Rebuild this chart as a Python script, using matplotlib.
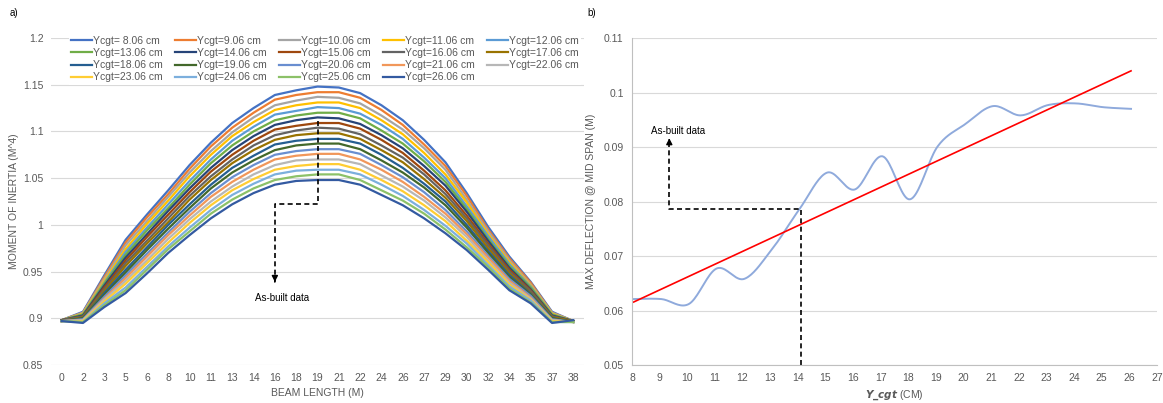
import numpy as np
import matplotlib
matplotlib.use('Agg')
import matplotlib.pyplot as plt

plt.rcParams['font.family'] = ['Liberation Sans', 'DejaVu Sans']

# ---- panel a data: moment of inertia along the beam ----
beam_labels = ['0', '2', '3', '5', '6', '8', '10', '11', '13', '14', '16', '18', '19',
               '21', '22', '24', '26', '27', '29', '30', '32', '34', '35', '37', '38']

series_labels = ['Ycgt= 8.06 cm', 'Ycgt=9.06 cm', 'Ycgt=10.06 cm', 'Ycgt=11.06 cm', 'Ycgt=12.06 cm',
                 'Ycgt=13.06 cm', 'Ycgt=14.06 cm', 'Ycgt=15.06 cm', 'Ycgt=16.06 cm', 'Ycgt=17.06 cm',
                 'Ycgt=18.06 cm', 'Ycgt=19.06 cm', 'Ycgt=20.06 cm', 'Ycgt=21.06 cm', 'Ycgt=22.06 cm',
                 'Ycgt=23.06 cm', 'Ycgt=24.06 cm', 'Ycgt=25.06 cm', 'Ycgt=26.06 cm']

series_colors = ['#4472C4', '#ED7D31', '#A5A5A5', '#FFC000', '#5B9BD5', '#70AD47', '#264478',
                 '#9E480E', '#636363', '#997300', '#255E91', '#43682B', '#698ED0', '#F1975A',
                 '#B7B7B7', '#FFCD33', '#7CAFDD', '#8CC168', '#335AA1']

inertia = [
    [0.898, 0.907, 0.946, 0.984, 1.011, 1.037, 1.064, 1.088, 1.109, 1.125, 1.139, 1.144, 1.148, 1.147, 1.141, 1.128, 1.112, 1.091, 1.067, 1.034, 0.998, 0.966, 0.939, 0.907, 0.897],
    [0.898, 0.906, 0.944, 0.981, 1.008, 1.033, 1.060, 1.084, 1.104, 1.120, 1.134, 1.139, 1.142, 1.142, 1.136, 1.123, 1.107, 1.086, 1.063, 1.031, 0.995, 0.964, 0.938, 0.906, 0.897],
    [0.898, 0.906, 0.942, 0.978, 1.004, 1.030, 1.056, 1.079, 1.099, 1.115, 1.128, 1.133, 1.137, 1.136, 1.130, 1.117, 1.102, 1.082, 1.059, 1.027, 0.993, 0.962, 0.936, 0.906, 0.897],
    [0.898, 0.905, 0.940, 0.974, 1.001, 1.026, 1.052, 1.075, 1.095, 1.110, 1.123, 1.128, 1.131, 1.131, 1.125, 1.112, 1.097, 1.077, 1.054, 1.024, 0.990, 0.960, 0.935, 0.905, 0.897],
    [0.898, 0.904, 0.938, 0.971, 0.997, 1.022, 1.047, 1.070, 1.090, 1.105, 1.118, 1.122, 1.126, 1.125, 1.119, 1.107, 1.092, 1.072, 1.050, 1.020, 0.988, 0.958, 0.934, 0.904, 0.897],
    [0.898, 0.904, 0.937, 0.968, 0.994, 1.018, 1.043, 1.066, 1.085, 1.100, 1.112, 1.117, 1.120, 1.120, 1.114, 1.101, 1.087, 1.068, 1.046, 1.017, 0.985, 0.956, 0.933, 0.904, 0.897],
    [0.898, 0.903, 0.935, 0.965, 0.990, 1.015, 1.039, 1.061, 1.080, 1.095, 1.107, 1.112, 1.115, 1.114, 1.108, 1.096, 1.082, 1.063, 1.042, 1.014, 0.983, 0.954, 0.931, 0.903, 0.897],
    [0.898, 0.902, 0.933, 0.962, 0.987, 1.011, 1.035, 1.057, 1.075, 1.090, 1.102, 1.106, 1.109, 1.109, 1.103, 1.091, 1.077, 1.058, 1.037, 1.010, 0.980, 0.952, 0.930, 0.902, 0.897],
    [0.898, 0.902, 0.931, 0.959, 0.983, 1.007, 1.031, 1.052, 1.070, 1.085, 1.096, 1.101, 1.104, 1.103, 1.097, 1.085, 1.072, 1.054, 1.033, 1.007, 0.978, 0.950, 0.929, 0.902, 0.897],
    [0.897, 0.901, 0.929, 0.956, 0.980, 1.003, 1.027, 1.048, 1.066, 1.080, 1.091, 1.096, 1.098, 1.098, 1.092, 1.080, 1.067, 1.049, 1.029, 1.004, 0.975, 0.948, 0.927, 0.901, 0.897],
    [0.897, 0.900, 0.927, 0.952, 0.976, 1.000, 1.022, 1.043, 1.061, 1.074, 1.086, 1.090, 1.092, 1.092, 1.087, 1.075, 1.061, 1.044, 1.025, 1.000, 0.972, 0.946, 0.926, 0.900, 0.896],
    [0.897, 0.900, 0.925, 0.949, 0.973, 0.996, 1.018, 1.039, 1.056, 1.069, 1.080, 1.085, 1.087, 1.087, 1.081, 1.069, 1.056, 1.040, 1.021, 0.997, 0.970, 0.944, 0.925, 0.900, 0.896],
    [0.897, 0.899, 0.923, 0.946, 0.969, 0.992, 1.014, 1.034, 1.051, 1.064, 1.075, 1.079, 1.081, 1.081, 1.076, 1.064, 1.051, 1.035, 1.016, 0.993, 0.967, 0.942, 0.924, 0.899, 0.896],
    [0.897, 0.898, 0.921, 0.943, 0.966, 0.989, 1.010, 1.030, 1.046, 1.059, 1.070, 1.074, 1.076, 1.076, 1.070, 1.059, 1.046, 1.030, 1.012, 0.990, 0.965, 0.940, 0.922, 0.898, 0.896],
    [0.897, 0.898, 0.920, 0.940, 0.962, 0.985, 1.006, 1.025, 1.041, 1.054, 1.064, 1.069, 1.070, 1.070, 1.065, 1.053, 1.041, 1.026, 1.008, 0.987, 0.962, 0.938, 0.921, 0.898, 0.896],
    [0.897, 0.897, 0.918, 0.937, 0.959, 0.981, 1.002, 1.021, 1.037, 1.049, 1.059, 1.063, 1.065, 1.065, 1.059, 1.048, 1.036, 1.021, 1.004, 0.983, 0.960, 0.936, 0.920, 0.897, 0.896],
    [0.897, 0.896, 0.916, 0.933, 0.955, 0.977, 0.997, 1.016, 1.032, 1.044, 1.054, 1.058, 1.059, 1.059, 1.054, 1.043, 1.031, 1.016, 0.999, 0.980, 0.957, 0.934, 0.919, 0.896, 0.896],
    [0.897, 0.896, 0.914, 0.930, 0.952, 0.974, 0.993, 1.012, 1.027, 1.039, 1.048, 1.052, 1.054, 1.054, 1.048, 1.037, 1.026, 1.012, 0.995, 0.976, 0.955, 0.932, 0.917, 0.896, 0.896],
    [0.897, 0.895, 0.912, 0.927, 0.948, 0.970, 0.989, 1.007, 1.022, 1.034, 1.043, 1.047, 1.048, 1.048, 1.043, 1.032, 1.021, 1.007, 0.991, 0.973, 0.952, 0.930, 0.916, 0.895, 0.898],
]

# as-built marker for panel a (category index, inertia levels)
a_peak_idx = 12
a_side_idx = 10
a_top = 1.111
a_step = 1.022
a_tip = 0.936

# ---- panel b data: max deflection vs Ycgt ----
ycgt = [8.06, 9.06, 10.06, 11.06, 12.06, 13.06, 14.06, 15.06, 16.06, 17.06,
        18.06, 19.06, 20.06, 21.06, 22.06, 23.06, 24.06, 25.06, 26.06]
deflection = [0.0621, 0.0621, 0.0612, 0.0677, 0.0658, 0.0712, 0.0786, 0.0853, 0.0822, 0.0883,
              0.0804, 0.0901, 0.0942, 0.0975, 0.0958, 0.0977, 0.0980, 0.0973, 0.0970]

b_asbuilt_x = 14.12
b_asbuilt_y = 0.0786
b_left_x = 9.35
b_tip_y = 0.0916

GRID = '#D9D9D9'
TXT = '#595959'
FS = 7.5


def catmull_rom(xs, ys, n=20):
    # smooth line like a spreadsheet "smoothed line"
    p = np.column_stack([xs, ys])
    p = np.vstack([p[0], p, p[-1]])
    out = []
    t = np.linspace(0, 1, n, endpoint=False)
    for i in range(1, len(p) - 2):
        p0, p1, p2, p3 = p[i - 1], p[i], p[i + 1], p[i + 2]
        c1 = p1 + (p2 - p0) / 6
        c2 = p2 - (p3 - p1) / 6
        seg = ((1 - t) ** 3)[:, None] * p1 + (3 * (1 - t) ** 2 * t)[:, None] * c1 \
            + (3 * (1 - t) * t ** 2)[:, None] * c2 + (t ** 3)[:, None] * p2
        out.append(seg)
    out.append(p[-2][None, :])
    out = np.vstack(out)
    return out[:, 0], out[:, 1]


fig = plt.figure(figsize=(11.63, 4.03), dpi=100)
H = 403.0
W = 1163.0
ax1 = fig.add_axes([51 / W, (H - 365) / H, (584 - 51) / W, (365 - 38) / H])
ax2 = fig.add_axes([632 / W, (H - 365) / H, (1157 - 632) / W, (365 - 38) / H])

# ---------------- panel a ----------------
xpos = np.arange(len(beam_labels))
handles = []
for vals, lab, col in zip(inertia, series_labels, series_colors):
    h, = ax1.plot(xpos, vals, color=col, lw=1.6, label=lab, solid_joinstyle='round')
    handles.append(h)

ax1.set_xlim(-0.5, len(beam_labels) - 0.5)
ax1.set_ylim(0.85, 1.2)
ax1.set_yticks(np.arange(0.85, 1.2001, 0.05))
ax1.set_yticklabels(['%g' % round(v, 2) for v in np.arange(0.85, 1.2001, 0.05)])
ax1.set_xticks(xpos)
ax1.set_xticklabels(beam_labels)
ax1.grid(axis='y', color=GRID, lw=0.8)
ax1.set_axisbelow(True)
for s in ax1.spines.values():
    s.set_visible(False)
ax1.tick_params(length=0, labelsize=FS, labelcolor=TXT, pad=5.5)
ax1.set_xlabel('BEAM LENGTH (M)', fontsize=FS, color=TXT, labelpad=4)
ax1.set_ylabel('MOMENT OF INERTIA (M^4)', fontsize=FS, color=TXT, labelpad=3)

# legend filled row by row, like the original
order = []
for c in range(5):
    for r in range(4):
        k = 5 * r + c
        if k < len(handles):
            order.append(k)
leg = ax1.legend([handles[k] for k in order], [series_labels[k] for k in order],
                 ncol=5, loc='upper left', bbox_to_anchor=(0.0343, 1.0138), borderaxespad=0,
                 fontsize=7.5, handlelength=2.0, handletextpad=0.1, columnspacing=1.18,
                 labelspacing=0.22, borderpad=0.2, frameon=True, fancybox=False)
leg.get_frame().set_facecolor('white')
leg.get_frame().set_edgecolor('none')
leg.get_frame().set_alpha(1)
for t in leg.get_texts():
    t.set_color(TXT)

dash = (0, (3, 2))
ax1.plot([a_peak_idx, a_peak_idx, a_side_idx, a_side_idx], [a_top, a_step, a_step, a_tip + 0.004],
         color='black', lw=1.2, ls=dash)
ax1.annotate('', xy=(a_side_idx, a_tip), xytext=(a_side_idx, a_tip + 0.006),
             arrowprops=dict(arrowstyle='-|>,head_length=0.35,head_width=0.18', color='black', lw=1))
ax1.text(a_side_idx + 0.35, a_tip - 0.014, 'As-built data', fontsize=7, ha='center', va='center',
         color='black')

# ---------------- panel b ----------------
sx, sy = catmull_rom(np.array(ycgt), np.array(deflection))
ax2.plot(sx, sy, color='#8FAADC', lw=1.4)
slope, icpt = np.polyfit(ycgt, deflection, 1)
xl = np.array([ycgt[0], ycgt[-1]])
ax2.plot(xl, slope * xl + icpt, color='#FF0000', lw=1.2)

ax2.plot([b_asbuilt_x, b_asbuilt_x, b_left_x, b_left_x], [0.05, b_asbuilt_y, b_asbuilt_y, b_tip_y - 0.0006],
         color='black', lw=1.2, ls=dash)
ax2.annotate('', xy=(b_left_x, b_tip_y), xytext=(b_left_x, b_tip_y - 0.001),
             arrowprops=dict(arrowstyle='-|>,head_length=0.35,head_width=0.18', color='black', lw=1))
ax2.text(b_left_x + 0.32, b_tip_y + 0.0013, 'As-built data', fontsize=7, ha='center', va='center',
         color='black')

ax2.set_xlim(8, 27)
ax2.set_ylim(0.05, 0.11)
ax2.set_xticks(np.arange(8, 28, 1))
ax2.set_yticks(np.arange(0.05, 0.1101, 0.01))
ax2.set_yticklabels(['%g' % round(v, 2) for v in np.arange(0.05, 0.1101, 0.01)])
ax2.grid(axis='y', color=GRID, lw=0.8)
ax2.set_axisbelow(True)
for k in ['top', 'right']:
    ax2.spines[k].set_visible(False)
for k in ['left', 'bottom']:
    ax2.spines[k].set_color('#BFBFBF')
    ax2.spines[k].set_linewidth(0.8)
ax2.tick_params(length=0, labelsize=FS, labelcolor=TXT, pad=6)
ax2.set_xlabel(r'$\boldsymbol{Y\_cgt}$ (CM)', fontsize=FS, color=TXT, labelpad=4)
ax2.set_ylabel('MAX DEFLECTION @ MID SPAN (M)', fontsize=FS, color=TXT, labelpad=5)

fig.text(10 / W, 1 - 13 / H, 'a)', fontsize=7, va='center', ha='left')
fig.text(587 / W, 1 - 13 / H, 'b)', fontsize=7, va='center', ha='left')

fig.savefig('out.png', dpi=100)
